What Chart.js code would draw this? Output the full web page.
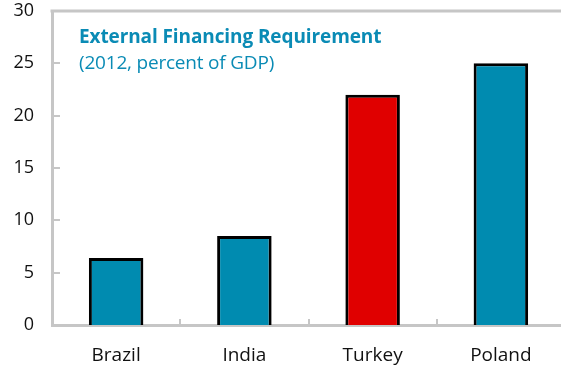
<!DOCTYPE html>
<html>
<head>
<meta charset="utf-8">
<script src="https://cdn.jsdelivr.net/npm/chart.js@4.4.0/dist/chart.umd.min.js"></script>
<style>
  html, body { margin: 0; padding: 0; background: #fff; overflow: hidden; width: 561px; height: 370px; }
  #wrap { position: relative; width: 566px; height: 370px; }
  canvas { position: absolute; left: 0; top: 0; }
  .ttl { position: absolute; left: 79px; font-family: 'Open Sans', sans-serif; color: #0A8BB5; white-space: nowrap; line-height: 1; }
</style>
</head>
<body>
<div id="wrap">
  <canvas id="c" width="566" height="370"></canvas>
  <div class="ttl" style="top:27px;font-weight:bold;font-size:19px;letter-spacing:-0.1px">External Financing Requirement</div>
  <div class="ttl" style="top:53px;font-size:19px;letter-spacing:-0.2px">(2012, percent of GDP)</div>
</div>
<script>
// External financing requirement, 2012, percent of GDP
const countries = ['Brazil', 'India', 'Turkey', 'Poland'];
const financingNeed = [6.4, 8.5, 22.0, 25.0];
const barColors = ['#008BB0', '#008BB0', '#E00000', '#008BB0'];
const yTickValues = [0, 5, 10, 15, 20, 25, 30];

const AXIS_GREY = '#C6C6C6';

// Top frame line plus short inward tick marks on both axes
const framePlugin = {
  id: 'frame',
  afterDraw(chart) {
    const { ctx, chartArea: a, scales } = chart;
    ctx.save();
    ctx.strokeStyle = AXIS_GREY;
    ctx.lineWidth = 3;
    ctx.beginPath();
    ctx.moveTo(a.left - 1.5, a.top);
    ctx.lineTo(a.right, a.top);
    ctx.stroke();

    ctx.lineWidth = 2;
    yTickValues.forEach(v => {
      if (v === 0 || v === 30) return;
      const y = Math.round(scales.y.getPixelForValue(v));
      ctx.beginPath();
      ctx.moveTo(a.left, y);
      ctx.lineTo(a.left + 8, y);
      ctx.stroke();
    });
    for (let i = 0; i < countries.length - 1; i++) {
      const x = Math.round((scales.x.getPixelForValue(i) + scales.x.getPixelForValue(i + 1)) / 2);
      ctx.beginPath();
      ctx.moveTo(x, a.bottom);
      ctx.lineTo(x, a.bottom - 6);
      ctx.stroke();
    }
    ctx.restore();
  }
};

new Chart(document.getElementById('c'), {
  type: 'bar',
  data: {
    labels: countries,
    datasets: [{
      data: financingNeed,
      backgroundColor: barColors,
      borderColor: '#000',
      borderWidth: 3,
      borderSkipped: 'start',
      barPercentage: 0.425,
      categoryPercentage: 1
    }]
  },
  options: {
    responsive: false,
    animation: false,
    devicePixelRatio: 1,
    layout: { padding: { top: 11, right: 1, left: 0, bottom: 0 } },
    plugins: { legend: { display: false }, tooltip: { enabled: false } },
    scales: {
      x: {
        z: 1,
        grid: { display: false, drawTicks: false },
        border: { display: true, color: AXIS_GREY, width: 3 },
        ticks: { padding: 19, color: '#111', font: { family: 'Open Sans', size: 19 } },
        afterFit(s) { s.height = 45; }
      },
      y: {
        min: 0,
        max: 30,
        afterBuildTicks(s) { s.ticks = yTickValues.map(v => ({ value: v })); },
        grid: { display: false, drawTicks: false },
        border: { display: true, color: AXIS_GREY, width: 3 },
        ticks: { padding: 18, color: '#111', font: { family: 'Open Sans', size: 18 } },
        afterFit(s) { s.width = 52; s.paddingTop = 0; s.paddingBottom = 0; }
      }
    }
  },
  plugins: [framePlugin]
});
</script>
</body>
</html>
